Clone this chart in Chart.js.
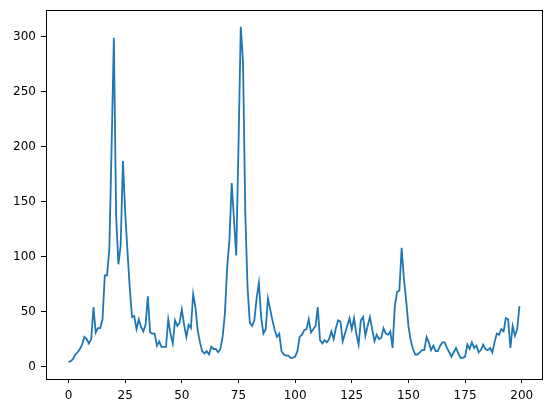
<!DOCTYPE html>
<html>
<head>
<meta charset="utf-8">
<script src="https://cdn.jsdelivr.net/npm/chart.js@4/dist/chart.umd.min.js"></script>
<style>
    html, body {
        margin: 0;
        padding: 0;
        background: #ffffff;
    }
    #wrap {
        width: 552px;
        height: 413px;
        position: relative;
    }
</style>
</head>
<body>
<div id="wrap">
    <canvas id="lineChart" width="552" height="413"></canvas>
</div>
<script>
// series values, one per index 0..199
const seriesValues = [
    4, 5, 7, 11, 13, 16, 20, 27, 25, 21,
    25, 54, 31, 35, 35, 43, 83, 83, 107, 200,
    299, 137, 93, 110, 187, 140, 105, 72, 45, 46,
    34, 43, 36, 32, 38, 64, 31, 30, 30, 19,
    23, 18, 18, 18, 43, 30, 21, 42, 37, 40,
    52, 38, 27, 38, 35, 66, 54, 33, 22, 14,
    12, 14, 11, 18, 16, 16, 13, 16, 27, 48,
    90, 115, 167, 134, 101, 200, 309, 277, 140, 72,
    40, 37, 42, 62, 76, 45, 30, 34, 62, 52,
    42, 33, 27, 30, 14, 11, 10, 10, 8, 8,
    9, 14, 27, 29, 33, 34, 43, 31, 34, 37,
    54, 24, 21, 24, 22, 25, 32, 25, 35, 42,
    41, 23, 30, 37, 44, 34, 44, 30, 20, 42,
    45, 28, 37, 45, 34, 23, 29, 25, 26, 35,
    30, 29, 32, 17, 55, 68, 69, 108, 80, 60,
    37, 24, 16, 11, 11, 13, 15, 15, 27, 22,
    15, 19, 14, 14, 19, 22, 22, 17, 13, 9,
    13, 17, 12, 8, 8, 9, 20, 16, 22, 17,
    19, 13, 15, 20, 16, 15, 17, 13, 22, 30,
    29, 34, 32, 44, 43, 17, 37, 28, 34, 55
];

const xTickValues = [0, 25, 50, 75, 100, 125, 150, 175, 200];
const yTickValues = [0, 50, 100, 150, 200, 250, 300];

const points = seriesValues.map((v, i) => ({ x: i, y: v }));

// matplotlib style frame round the plot area
const framePlugin = {
    id: "frame",
    afterDraw(chart) {
        const { ctx, chartArea } = chart;
        ctx.save();
        ctx.strokeStyle = "#000000";
        ctx.lineWidth = 1;
        ctx.strokeRect(
            Math.round(chartArea.left) + 0.5,
            Math.round(chartArea.top) + 0.5,
            Math.round(chartArea.right - chartArea.left),
            Math.round(chartArea.bottom - chartArea.top)
        );
        ctx.restore();
    }
};

const tickFont = {
    family: "'DejaVu Sans', sans-serif",
    size: 12
};

new Chart(document.getElementById("lineChart"), {
    type: "line",
    data: {
        datasets: [
            {
                data: points,
                borderColor: "#1f77b4",
                borderWidth: 1.8,
                pointRadius: 0,
                tension: 0,
                fill: false
            }
        ]
    },
    options: {
        responsive: false,
        animation: false,
        devicePixelRatio: 1,
        layout: {
            padding: { top: 10, right: 10, left: 0, bottom: 0 }
        },
        plugins: {
            legend: { display: false },
            tooltip: { enabled: false }
        },
        scales: {
            x: {
                type: "linear",
                min: -9.95,
                max: 208.95,
                afterBuildTicks(scale) {
                    scale.ticks = xTickValues.map(v => ({ value: v }));
                },
                afterFit(scale) {
                    scale.height = 34;
                    scale.paddingLeft = 0;
                    scale.paddingRight = 0;
                },
                grid: {
                    drawOnChartArea: false,
                    drawTicks: true,
                    tickLength: 4,
                    tickColor: "#000000"
                },
                border: { display: true, color: "#000000", width: 1 },
                ticks: {
                    color: "#000000",
                    font: tickFont,
                    padding: 6,
                    maxRotation: 0
                }
            },
            y: {
                type: "linear",
                min: -11.3,
                max: 324.3,
                afterBuildTicks(scale) {
                    scale.ticks = yTickValues.map(v => ({ value: v }));
                },
                afterFit(scale) {
                    scale.width = 46;
                    scale.paddingTop = 0;
                    scale.paddingBottom = 0;
                },
                grid: {
                    drawOnChartArea: false,
                    drawTicks: true,
                    tickLength: 5,
                    tickColor: "#000000"
                },
                border: { display: true, color: "#000000", width: 1 },
                ticks: {
                    color: "#000000",
                    font: tickFont,
                    padding: 5
                }
            }
        }
    },
    plugins: [framePlugin]
});
</script>
</body>
</html>
